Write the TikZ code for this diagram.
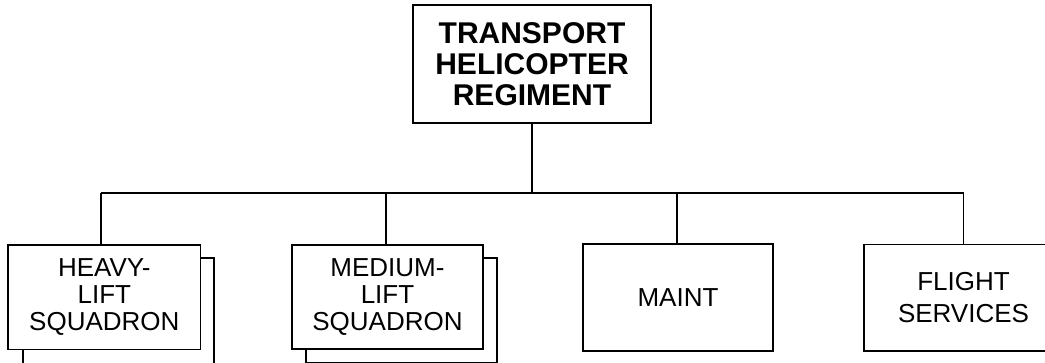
\documentclass[tikz,border=0pt]{standalone}
\usepackage{fontspec}
\setmainfont{Liberation Sans}
\begin{document}
\begin{tikzpicture}[x=0.75pt,y=-0.75pt,
  line width=1.25pt,
  box/.style={draw=black, line width=1.25pt, fill=white, align=center, inner sep=0pt},
  topfont/.style={font=\bfseries\fontsize{22.5}{23.5}\selectfont},
  subfont/.style={font=\fontsize{19.5}{20.25}\selectfont},
  flightfont/.style={font=\fontsize{19.5}{24}\selectfont},
  conn/.style={draw=black, line width=1.25pt}]
\useasboundingbox (0,0) rectangle (1045,362);
\fill[white] (0,0) rectangle (1045,362);
\clip (0,0) rectangle (1045,362);

% top box
\node[box, topfont, minimum width=178.5pt, minimum height=88.5pt] (top) at (532,64) {TRANSPORT\\HELICOPTER\\REGIMENT};

% back boxes
\node[box, minimum width=143.25pt, minimum height=80.8pt] (heavyback) at (118.5,312) {};
\node[box, minimum width=143.25pt, minimum height=78.4pt] (mediumback) at (401.5,310.5) {};

% front boxes
\node[box, subfont, minimum width=144.5pt, minimum height=78.2pt] (heavy) at (104.3,297.2) {HEAVY-\\LIFT\\SQUADRON};
\node[box, subfont, minimum width=143.25pt, minimum height=78pt] (medium) at (387.5,297) {MEDIUM-\\LIFT\\SQUADRON};
\node[box, subfont, minimum width=142.5pt, minimum height=80.25pt] (maint) at (678,297.5) {MAINT};
\node[box, flightfont, minimum width=149.25pt, minimum height=80pt] (flight) at (963.5,297.7) {FLIGHT\\SERVICES};

% connectors
\coordinate (bus) at (0,192.7);
\coordinate (hs) at ([xshift=-2.7pt]heavy.north);
\coordinate (ms) at ([xshift=-1.1pt]medium.north);
\coordinate (ts) at ([xshift=-0.75pt]maint.north);
\draw[conn] (top.south) -- (top.south |- bus);
\draw[conn] (hs |- bus) -- (flight.north |- bus);
\draw[conn] (hs) -- (hs |- bus);
\draw[conn] (ms) -- (ms |- bus);
\draw[conn] (ts) -- (ts |- bus);
\draw[conn] (flight.north) -- (flight.north |- bus);
\end{tikzpicture}
\end{document}
